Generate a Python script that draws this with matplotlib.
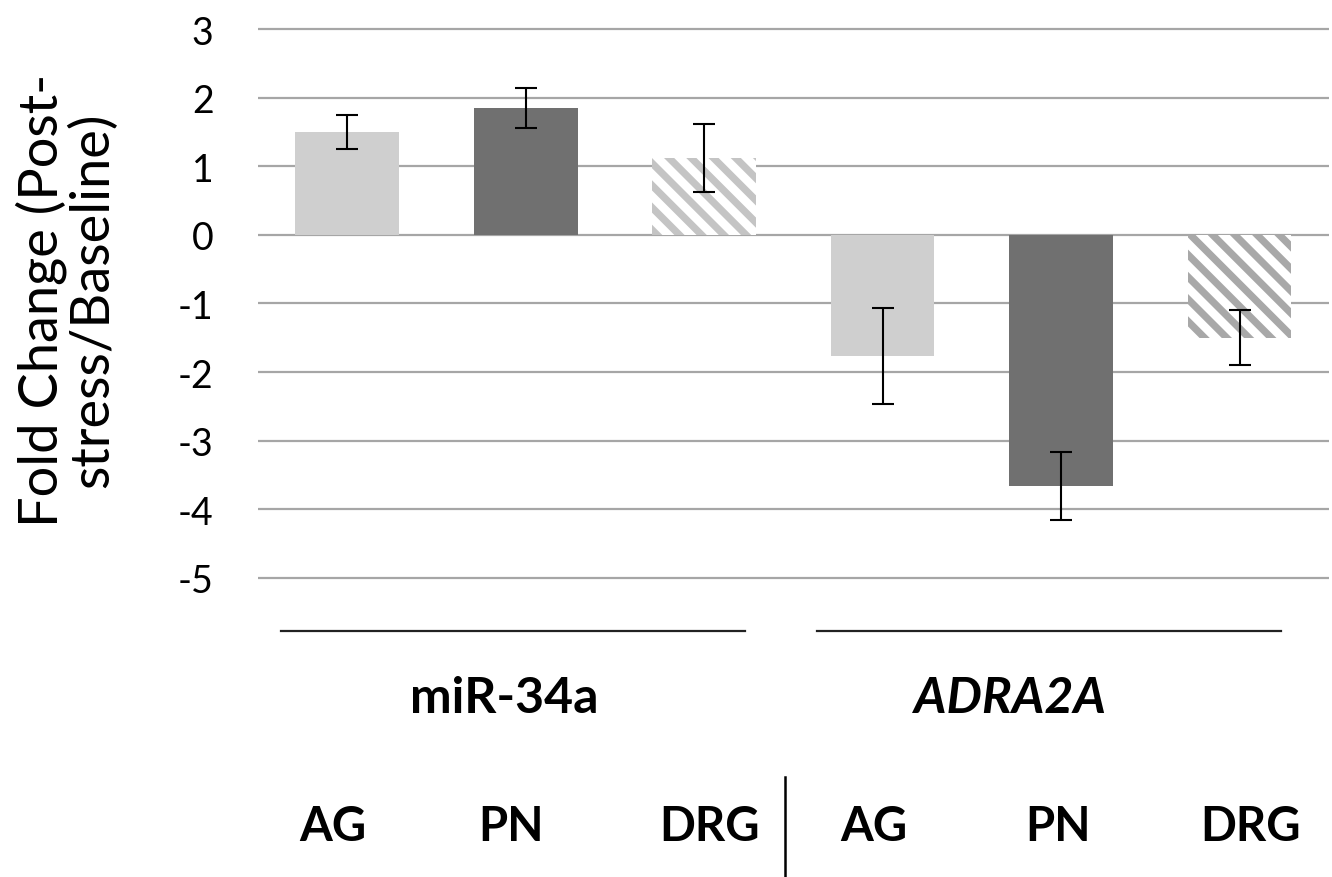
import matplotlib
matplotlib.use('Agg')
import matplotlib.pyplot as plt
import matplotlib.transforms as mtransforms
import numpy as np

plt.rcParams['font.family'] = ['Lato', 'DejaVu Sans']
plt.rcParams['hatch.linewidth'] = 2.6

# data
categories = ['AG', 'PN', 'DRG', 'AG', 'PN', 'DRG']
groups = ['miR-34a', 'ADRA2A']
group_members = [[0, 1, 2], [3, 4, 5]]
values = [1.50, 1.85, 1.12, -1.76, -3.66, -1.50]
errors = [0.25, 0.29, 0.50, 0.70, 0.50, 0.40]

face_colors = ['#cfcfcf', '#707070', 'white', '#cfcfcf', '#707070', 'white']
hatch_colors = [None, None, '#c4c4c4', None, None, '#a8a8a8']

# small horizontal nudges of the labels (as in the original layout)
label_nudge = [-0.08, -0.08, 0.03, -0.05, -0.02, 0.06]
group_nudge = [-0.12, -0.29]

# saved at dpi 200 so the hatch spacing matches the reference
fig = plt.figure(figsize=(6.66, 4.39), dpi=200)
ax = fig.add_axes([0.1937, 0.3250, 0.8040, 0.6564])

x = np.arange(len(categories))
for i in range(len(categories)):
    if hatch_colors[i] is None:
        ax.bar(x[i], values[i], width=0.58, color=face_colors[i], zorder=2)
    else:
        ax.bar(x[i], values[i], width=0.58, facecolor='white',
               edgecolor=hatch_colors[i], linewidth=0, hatch='\\\\\\', zorder=2)

ax.errorbar(x, values, yerr=errors, fmt='none', ecolor='black',
            elinewidth=0.75, capsize=4, capthick=0.75, zorder=3)

ax.set_xlim(-0.5, len(categories) - 0.5)
ax.set_ylim(-5.2, 3.2)
ax.set_yticks(np.arange(-5, 4, 1))
ax.set_yticklabels([str(v) for v in range(-5, 4)])
ax.tick_params(axis='y', length=0, pad=16, labelsize=13.5)
ax.set_xticks([])
ax.yaxis.grid(True, color='#a6a6a6', linewidth=0.8, zorder=0)
ax.set_axisbelow(True)
for s in ax.spines.values():
    s.set_visible(False)

# multi-level category axis below the plot
trans = mtransforms.blended_transform_factory(ax.transData, fig.transFigure)
for g, members in enumerate(group_members):
    ax.plot([members[0] - 0.37, members[-1] + 0.23], [0.280, 0.280],
            color='#222222', linewidth=0.8, transform=trans, clip_on=False)
    ax.text(np.mean(members) + group_nudge[g], 0.204, groups[g], transform=trans,
            ha='center', va='center', fontsize=18, fontweight='bold',
            style='italic' if g == 1 else 'normal')
for i, c in enumerate(categories):
    ax.text(x[i] + label_nudge[i], 0.058, c, transform=trans, ha='center',
            va='center', fontsize=17, fontweight='bold')
ax.plot([2.45, 2.45], [0.0, 0.114], color='black', linewidth=0.9,
        transform=trans, clip_on=False)

fig.text(0.05, 0.658, 'Fold Change (Post-\nstress/Baseline)', rotation=90,
         ha='center', va='center', multialignment='center', fontsize=19.5,
         linespacing=1.0)

fig.savefig('out.png', dpi=200)
